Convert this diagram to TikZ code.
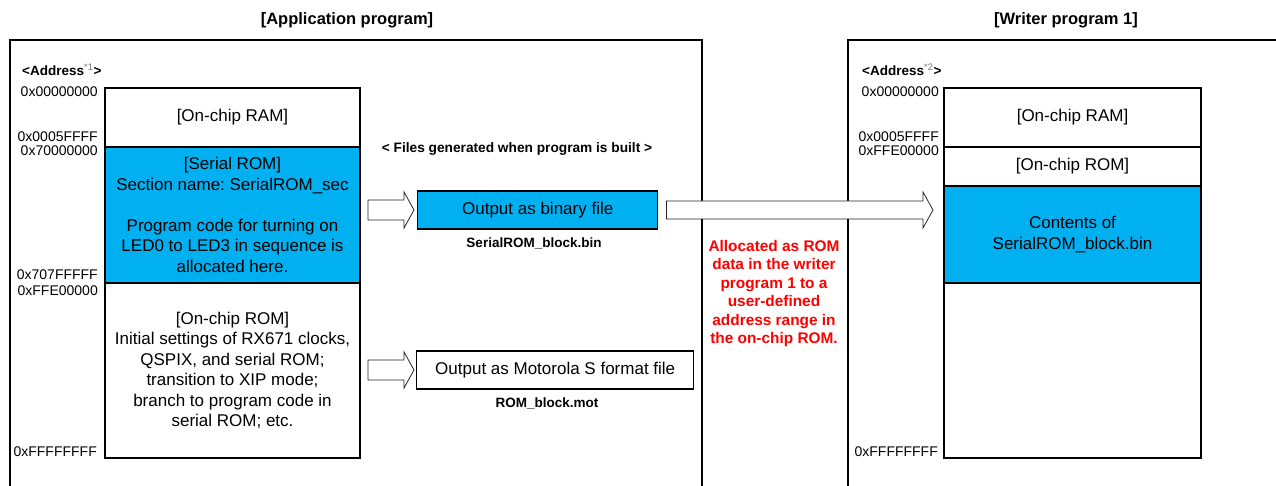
\documentclass[tikz,border=0pt]{standalone}
\usepackage{fontspec}
\setmainfont{Liberation Sans}
\usepackage{xcolor}
\usepackage{tikz}
\usetikzlibrary{arrows.meta,positioning,calc}
\frenchspacing

\definecolor{romblue}{HTML}{00B0F0}
\definecolor{noteRed}{HTML}{FF0000}

\newcommand{\hollowarrow}[3][10]{%
  \draw[hollow] ($(#2)+(0,-#1)$) -- ($(#3)+(-10,-#1)$) -- ($(#3)+(-10,-18)$) -- (#3)
    -- ($(#3)+(-10,18)$) -- ($(#3)+(-10,#1)$) -- ($(#2)+(0,#1)$) -- cycle;}

\begin{document}
\begin{tikzpicture}[x=1pt, y=-1pt,
frame/.style={line width=1.6pt},
mem/.style={draw, line width=1.4pt, fill=white, minimum width=255pt, align=center, inner sep=0pt, outer sep=0pt, font=\fontsize{17}{20.5}\selectfont},
outbox/.style={draw, line width=1.4pt, minimum height=38pt, anchor=west, inner sep=0pt, font=\fontsize{17}{20.5}\selectfont},
addr/.style={anchor=east, inner sep=0pt, font=\fontsize{14}{16}\selectfont},
addrhead/.style={anchor=west, inner sep=0pt, font=\fontsize{13.5}{15}\selectfont},
title/.style={font=\fontsize{16.5}{19}\selectfont\bfseries},
fname/.style={inner sep=0pt, font=\fontsize{13.5}{16}\selectfont\bfseries},
hollow/.style={draw=black!85, line width=0.8pt, fill=white, line join=miter}
]
\useasboundingbox (0,0) rectangle (1276,486);

% program frames
\draw[frame] (10,487) |- (702,40) -- (702,487);
\draw[frame] (848,487) |- (1280,40);
\node[title] (apptitle) at (347,20) {[Application program]};
\node[title] (wrtitle) at (1066,20) {[Writer program 1]};

% application memory map
\node[addrhead] (addrhead1) at (22,70) {\textbf{<Address}{\color{black!55}\textsuperscript{*1}}\textbf{>}};
\node[mem, minimum height=59pt, anchor=north west] (ram1) at (105,88) {[On-chip RAM]};
\node[mem, minimum height=136pt, fill=romblue, below=0pt of ram1] (serial1) {[Serial ROM]\\Section name: SerialROM\_sec\\[20.5pt]Program code for turning on\\LED0 to LED3 in sequence is\\allocated here.};
\node[mem, minimum height=175pt, below=0pt of serial1] (rom1) {[On-chip ROM]\\Initial settings of RX671 clocks,\\QSPIX, and serial ROM;\\transition to XIP mode;\\branch to program code in\\serial ROM; etc.};
\node[addr] (a1) at (98,92) {0x00000000};
\node[addr] (a2) at (98,137) {0x0005FFFF};
\node[addr] (a3) at (98,151) {0x70000000};
\node[addr] (a4) at (98,275) {0x707FFFFF};
\node[addr] (a5) at (98,291) {0xFFE00000};
\node[addr] (a6) at (97,452) {0xFFFFFFFF};

% generated files
\node[fname, font=\fontsize{13.7}{16}\selectfont\bfseries] (files) at (517,149) {< Files generated when program is built >};
\node[outbox, fill=romblue, minimum width=240pt] (bin) at (417,210) {Output as binary file};
\node[fname] (binname) at (534,243) {SerialROM\_block.bin};
\node[outbox, fill=white, minimum width=277pt] (mot) at (416,370) {Output as Motorola S format file};
\node[fname] (motname) at (547,403) {ROM\_block.mot};

% writer memory map
\node[addrhead] (addrhead2) at (862,70) {\textbf{<Address}{\color{black!55}\textsuperscript{*2}}\textbf{>}};
\node[mem, minimum width=257pt, minimum height=59pt, anchor=north west] (ram2) at (944,88) {[On-chip RAM]};
\node[mem, minimum width=257pt, minimum height=39pt, below=0pt of ram2] (rom2) {[On-chip ROM]};
\node[mem, minimum width=257pt, minimum height=97pt, fill=romblue, below=0pt of rom2] (contents) {Contents of\\SerialROM\_block.bin};
\node[mem, minimum width=257pt, minimum height=175pt, below=0pt of contents] (free2) {};
\node[addr] (b1) at (939,92) {0x00000000};
\node[addr] (b2) at (939,137) {0x0005FFFF};
\node[addr] (b3) at (939,151) {0xFFE00000};
\node[addr] (b4) at (938,452) {0xFFFFFFFF};

\node[text=noteRed, align=center, font=\fontsize{15.4}{18.5}\selectfont\bfseries] (alloc) at (774,293.5) {Allocated as ROM\\data in the writer\\program 1 to a\\user-defined\\address range in\\the on-chip ROM.};

% hollow arrows
\coordinate (s1) at ($(serial1.east |- bin.west)+(8,0)$);
\coordinate (t1) at ($(bin.west)+(-3,0)$);
\coordinate (s2) at ($(rom1.east |- mot.west)+(8,0)$);
\coordinate (t2) at ($(mot.west)+(-2,0)$);
\coordinate (s3) at ($(bin.east)+(8,0)$);
\coordinate (t3) at ($(contents.west |- bin.east)+(-11,0)$);
\hollowarrow{s1}{t1}
\hollowarrow{s2}{t2}
\hollowarrow[9]{s3}{t3}
\end{tikzpicture}
\end{document}
